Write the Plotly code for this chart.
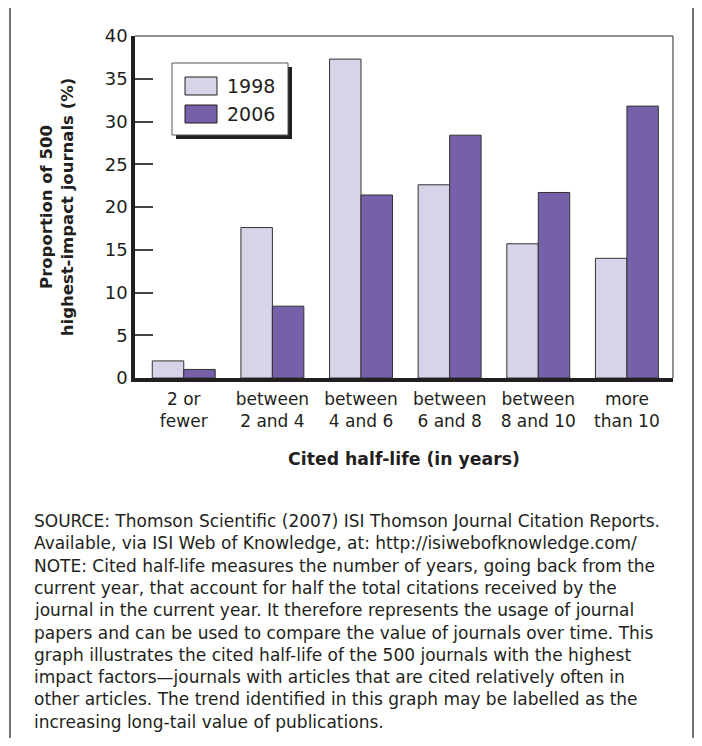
import plotly.graph_objects as go

categories = ["2 or<br>fewer", "between<br>2 and 4", "between<br>4 and 6",
              "between<br>6 and 8", "between<br>8 and 10", "more<br>than 10"]
series_names = ["1998", "2006"]
values_1998 = [2.0, 17.6, 37.3, 22.6, 15.7, 14.0]
values_2006 = [1.0, 8.4, 21.4, 28.4, 21.7, 31.8]
y_ticks = [0, 5, 10, 15, 20, 25, 30, 35, 40]

note_lines = [
    "SOURCE: Thomson Scientific (2007) ISI Thomson Journal Citation Reports.",
    "Available, via ISI Web of Knowledge, at: http://isiwebofknowledge.com/",
    "NOTE: Cited half-life measures the number of years, going back from the",
    "current year, that account for half the total citations received by the",
    "journal in the current year. It therefore represents the usage of journal",
    "papers and can be used to compare the value of journals over time. This",
    "graph illustrates the cited half-life of the 500 journals with the highest",
    "impact factors\u2014journals with articles that are cited relatively often in",
    "other articles. The trend identified in this graph may be labelled as the",
    "increasing long-tail value of publications.",
]

COL_1998 = "#D7D4E9"
COL_2006 = "#7660A9"
FONT = "DejaVu Sans"
TXT = "#231F20"

# page body has an 8px margin; keep the figure inside the window
OFF = 8
WIN_W, WIN_H = 702, 746
W, H = 686, 730
# plot area in window pixel coordinates
L, R, T, B = 135, 673, 36, 378


def px(x):
    return (x - L) / (R - L)


def py(y):
    return (B - y) / (B - T)


fig = go.Figure()
fig.add_trace(go.Bar(x=categories, y=values_1998, name=series_names[0],
                     marker=dict(color=COL_1998, line=dict(color="#333333", width=1))))
fig.add_trace(go.Bar(x=categories, y=values_2006, name=series_names[1],
                     marker=dict(color=COL_2006, line=dict(color="#333333", width=1))))

shapes = []
# outer frame (bottom edge lies off the page)
shapes.append(dict(type="rect", xref="paper", yref="paper",
                   x0=px(10), x1=px(693), y0=py(800), y1=py(5),
                   line=dict(color="#444444", width=1.5), layer="below"))
# plot frame top & right
shapes.append(dict(type="line", xref="paper", yref="paper", x0=0, x1=1, y0=1, y1=1,
                   line=dict(color="#6d6d6d", width=1.5)))
shapes.append(dict(type="line", xref="paper", yref="paper", x0=1, x1=1, y0=0, y1=1,
                   line=dict(color="#6d6d6d", width=1.5)))
# legend shadow + box
shapes.append(dict(type="rect", xref="paper", yref="paper",
                   x0=px(176), x1=px(292), y0=py(139), y1=py(67),
                   fillcolor="#231F20", line=dict(width=0), layer="above"))
shapes.append(dict(type="rect", xref="paper", yref="paper",
                   x0=px(172), x1=px(288), y0=py(135), y1=py(63),
                   fillcolor="white", line=dict(color="#555555", width=1), layer="above"))
swatch_cols = [COL_1998, COL_2006]
swatch_y = [(77, 95), (105, 123)]
annotations = []
for name, col, (ya, yb) in zip(series_names, swatch_cols, swatch_y):
    shapes.append(dict(type="rect", xref="paper", yref="paper",
                       x0=px(185), x1=px(217), y0=py(yb), y1=py(ya),
                       fillcolor=col, line=dict(color="#231F20", width=1), layer="above"))
    annotations.append(dict(xref="paper", yref="paper", x=px(225), y=py((ya + yb) / 2),
                            text=name, showarrow=False, xanchor="left", yanchor="middle",
                            font=dict(family=FONT, size=19, color=TXT)))

for i, line in enumerate(note_lines):
    annotations.append(dict(xref="paper", yref="paper", x=px(32), y=py(521 + 22.3 * i),
                            text=line, showarrow=False, xanchor="left", yanchor="middle",
                            font=dict(family=FONT, size=17, color=TXT)))

fig.update_layout(
    width=W, height=H,
    margin=dict(l=L - OFF, r=OFF + W - R, t=T - OFF, b=OFF + H - B),
    paper_bgcolor="white", plot_bgcolor="white",
    barmode="group", bargap=0.29, bargroupgap=0,
    showlegend=False,
    shapes=shapes, annotations=annotations,
    font=dict(family=FONT, color=TXT),
    xaxis=dict(
        range=[-0.55, 5.52], showline=True, linecolor="#231F20", linewidth=3.5,
        ticks="", tickfont=dict(size=17, color=TXT), showgrid=False, zeroline=False,
        ticklabelstandoff=3,
        title=dict(text="<b>Cited half-life (in years)</b>", font=dict(size=17.3, color=TXT),
                   standoff=24),
    ),
    yaxis=dict(
        range=[0, 40], tickvals=y_ticks, showline=True, linecolor="#231F20", linewidth=3.5,
        ticks="inside", ticklen=18, tickwidth=1.5, tickcolor="#444444",
        tickfont=dict(size=18, color=TXT), showgrid=False, zeroline=False,
        title=dict(text="<b>Proportion of 500<br>highest-impact journals (%)</b>",
                   font=dict(size=16.5, color=TXT), standoff=28),
    ),
)

fig.write_html("out.html")
